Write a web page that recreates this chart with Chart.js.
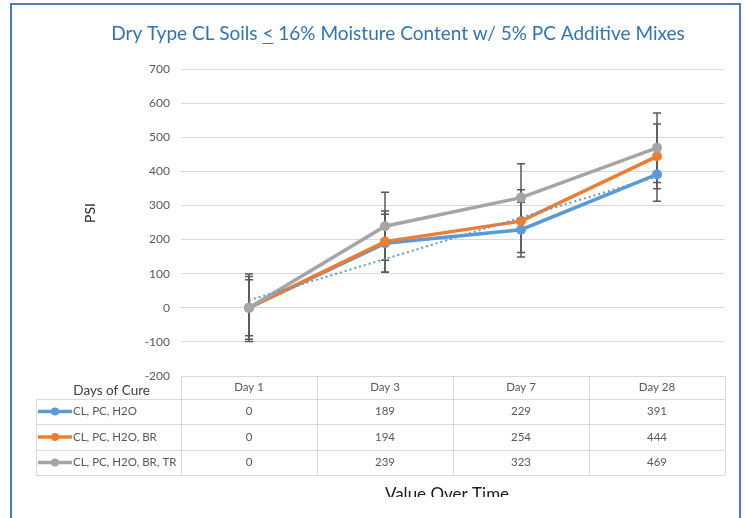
<!DOCTYPE html>
<html>
<head>
<meta charset="utf-8">
<script src="https://cdn.jsdelivr.net/npm/chart.js@4.4.0/dist/chart.umd.min.js"></script>
<style>
  body { margin: 0; background: #fff; }
  #frame { position: absolute; left: 10px; top: 3px; width: 727px; height: 600px; border: 2px solid #4a7ebb; border-bottom: none; }
  #clip { position: absolute; left: 0; top: 0; width: 746px; height: 497px; overflow: hidden; }
</style>
</head>
<body>
<div id="frame"></div>
<div id="clip"><canvas id="myChart" width="746" height="518"></canvas></div>
<script>
// values
var days = ['Day 1', 'Day 3', 'Day 7', 'Day 28'];
var seriesNames = ['CL, PC, H2O', 'CL, PC, H2O, BR', 'CL, PC, H2O, BR, TR'];
var clPcH2o = [0, 189, 229, 391];
var clPcH2oBr = [0, 194, 254, 444];
var clPcH2oBrTr = [0, 239, 323, 469];
var errH2o = [99, 85, 80, 79];
var errBr = [92, 90, 92, 95];
var errTr = [82, 100, 99, 102];
var trendH2o = [22, null, null, 385];
var yMin = -200, yMax = 700, yStep = 100;

var colors = ['#5b9bd5', '#ed7d31', '#a5a5a5'];
var rows = [clPcH2o, clPcH2oBr, clPcH2oBrTr];
var font = 'Lato, "Open Sans", sans-serif';

var errorBars = {
    id: 'errorBars',
    beforeDatasetsDraw: function (chart) {
        var ctx = chart.ctx;
        var y = chart.scales.y;
        ctx.save();
        ctx.strokeStyle = '#595959';
        ctx.lineWidth = 1.5;
        chart.data.datasets.forEach(function (ds, i) {
            if (!ds.errors) return;
            var meta = chart.getDatasetMeta(i);
            meta.data.forEach(function (pt, j) {
                var top = y.getPixelForValue(ds.data[j] + ds.errors[j]);
                var bot = y.getPixelForValue(ds.data[j] - ds.errors[j]);
                ctx.beginPath();
                ctx.moveTo(pt.x, top); ctx.lineTo(pt.x, bot);
                ctx.moveTo(pt.x - 4, top); ctx.lineTo(pt.x + 4, top);
                ctx.moveTo(pt.x - 4, bot); ctx.lineTo(pt.x + 4, bot);
                ctx.stroke();
            });
        });
        ctx.restore();
    }
};

var dataTable = {
    id: 'dataTable',
    afterDraw: function (chart) {
        var ctx = chart.ctx;
        var x = chart.scales.x;
        var area = chart.chartArea;
        var rowY = [area.bottom, 399, 424, 450, 475];
        var half = (x.getPixelForValue(1) - x.getPixelForValue(0)) / 2;
        var colX = [area.left];
        for (var c = 0; c < days.length; c++) colX.push(x.getPixelForValue(c) + half);

        ctx.save();
        ctx.strokeStyle = '#d9d9d9';
        ctx.lineWidth = 1;
        ctx.beginPath();
        ctx.moveTo(area.left, rowY[0] + 0.5); ctx.lineTo(area.right, rowY[0] + 0.5);
        for (var r = 1; r < rowY.length; r++) {
            ctx.moveTo(36, rowY[r] + 0.5); ctx.lineTo(area.right, rowY[r] + 0.5);
        }
        ctx.moveTo(36.5, rowY[1]); ctx.lineTo(36.5, rowY[4]);
        colX.forEach(function (cx) {
            ctx.moveTo(Math.round(cx) + 0.5, rowY[0]); ctx.lineTo(Math.round(cx) + 0.5, rowY[4]);
        });
        ctx.stroke();

        ctx.textAlign = 'center';
        ctx.textBaseline = 'middle';
        ctx.fillStyle = '#595959';
        ctx.font = '11.5px ' + font;
        days.forEach(function (d, i) {
            ctx.fillText(d, x.getPixelForValue(i), (rowY[0] + rowY[1]) / 2);
        });
        rows.forEach(function (vals, r) {
            var cy = (rowY[r + 1] + rowY[r + 2]) / 2;
            vals.forEach(function (v, i) {
                ctx.fillText(String(v), x.getPixelForValue(i), cy);
            });
            ctx.strokeStyle = colors[r];
            ctx.lineWidth = 3.5;
            ctx.beginPath();
            ctx.moveTo(38, cy); ctx.lineTo(72, cy);
            ctx.stroke();
            ctx.fillStyle = colors[r];
            ctx.beginPath();
            ctx.arc(55, cy, 4, 0, Math.PI * 2);
            ctx.fill();
            ctx.fillStyle = '#595959';
            ctx.textAlign = 'left';
            ctx.fillText(seriesNames[r], 73, cy);
            ctx.textAlign = 'center';
        });

        ctx.textAlign = 'right';
        ctx.font = '13.5px ' + font;
        ctx.fillStyle = '#404040';
        ctx.fillText('Days of Cure', 150, 391);

        // y axis title
        ctx.save();
        ctx.translate(90, 213);
        ctx.rotate(-Math.PI / 2);
        ctx.textAlign = 'center';
        ctx.fillStyle = '#262626';
        ctx.font = '14px ' + font;
        ctx.fillText('PSI', 0, 0);
        ctx.restore();

        // x axis title (clipped at the bottom like the original)
        ctx.textAlign = 'center';
        ctx.textBaseline = 'alphabetic';
        ctx.fillStyle = '#1a1a1a';
        ctx.font = '17px ' + font;
        ctx.fillText('Value Over Time', 447, 500);

        // chart title with underlined "<"
        var t1 = 'Dry Type CL Soils ', t2 = '<', t3 = ' 16% Moisture Content w/ 5% PC Additive Mixes';
        ctx.font = '19px ' + font;
        ctx.fillStyle = '#2e75b6';
        ctx.textAlign = 'left';
        ctx.textBaseline = 'middle';
        var w1 = ctx.measureText(t1).width, w2 = ctx.measureText(t2).width, w3 = ctx.measureText(t3).width;
        var sx = 398 - (w1 + w2 + w3) / 2;
        ctx.fillText(t1, sx, 34);
        ctx.fillText(t2, sx + w1, 34);
        ctx.fillText(t3, sx + w1 + w2, 34);
        ctx.strokeStyle = '#2e75b6';
        ctx.lineWidth = 1;
        ctx.beginPath();
        ctx.moveTo(sx + w1, 43.5); ctx.lineTo(sx + w1 + w2, 43.5);
        ctx.stroke();
        ctx.restore();
    }
};

var ctx = document.getElementById('myChart');

new Chart(ctx, {
    type: 'line',
    data: {
        labels: days,
        datasets: [
            { label: 'trend', data: trendH2o, borderColor: colors[0], borderWidth: 2, borderDash: [2, 3], pointRadius: 0, spanGaps: true, order: 0 },
            { label: seriesNames[2], data: clPcH2oBrTr, errors: errTr, borderColor: colors[2], backgroundColor: colors[2], borderWidth: 3.5, pointRadius: 5, pointBorderWidth: 0, order: 1 },
            { label: seriesNames[1], data: clPcH2oBr, errors: errBr, borderColor: colors[1], backgroundColor: colors[1], borderWidth: 3.5, pointRadius: 5, pointBorderWidth: 0, order: 2 },
            { label: seriesNames[0], data: clPcH2o, errors: errH2o, borderColor: colors[0], backgroundColor: colors[0], borderWidth: 3.5, pointRadius: 5, pointBorderWidth: 0, order: 3 }
        ]
    },
    options: {
        responsive: false,
        animation: false,
        devicePixelRatio: 1,
        layout: { padding: { top: 69, right: 21, bottom: 142, left: 0 } },
        plugins: {
            legend: { display: false },
            title: { display: false },
            tooltip: { enabled: false }
        },
        scales: {
            x: { display: false, offset: true },
            y: {
                min: yMin,
                max: yMax,
                ticks: { stepSize: yStep, padding: 11, color: '#595959', font: { family: font, size: 12 } },
                grid: { color: '#d9d9d9', drawTicks: false },
                border: { display: false },
                afterFit: function (scale) { scale.width = 181; }
            }
        }
    },
    plugins: [errorBars, dataTable]
});
</script>
</body>
</html>
